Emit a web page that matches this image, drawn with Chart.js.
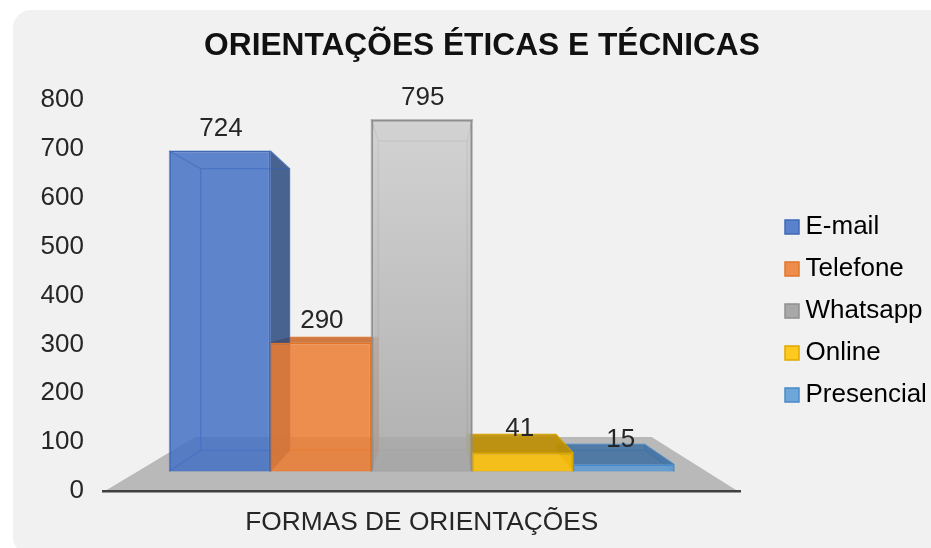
<!DOCTYPE html>
<html lang="pt">
<head>
    <meta charset="UTF-8">
    <title>Orientações Éticas e Técnicas</title>
    <script src="https://cdn.jsdelivr.net/npm/chart.js"></script>
    <style>
        html, body { margin: 0; background: #fff; overflow: hidden; }
        #panel { position: absolute; left: 13px; top: 10px; width: 940px; height: 545px; background: #f1f1f1; border-radius: 18px 0 0 18px; }
        #chart { position: absolute; left: 0; top: 0; }
    </style>
</head>
<body>
    <div id="panel"></div>
    <canvas id="chart" width="931" height="548"></canvas>

    <script>
        const categories = ['FORMAS DE ORIENTAÇÕES'];
        const seriesNames = ['E-mail', 'Telefone', 'Whatsapp', 'Online', 'Presencial'];
        const seriesValues = [724, 290, 795, 41, 15];
        const yTicks = [0, 100, 200, 300, 400, 500, 600, 700, 800];

        const fillColors = ['rgba(68,114,196,.85)', 'rgba(237,125,49,.85)', 'rgba(165,165,165,.85)', 'rgba(255,192,0,.85)', 'rgba(91,155,213,.85)'];
        const edgeColors = ['#3f69b8', '#df7429', '#8f8f8f', '#dda800', '#4a8ac8'];
        const shadeColors = ['rgba(44,74,127,.85)', 'rgba(200,100,35,.85)', 'rgba(120,120,120,.85)', 'rgba(190,142,0,.9)', 'rgba(62,110,160,.85)'];
        const legendColors = ['#5a82cc', '#ee8c4c', '#a8a8a8', '#ffc91f', '#6ea6da'];

        // perspective of the fake 3d box: back face shrinks towards this point
        const vanish = { x: 430, y: 298, scale: 0.88 };
        const toBack = (x, y) => [vanish.x + (x - vanish.x) * vanish.scale, vanish.y + (y - vanish.y) * vanish.scale];

        function quad(ctx, pts, fill, stroke) {
            ctx.beginPath();
            pts.forEach((p, i) => i ? ctx.lineTo(p[0], p[1]) : ctx.moveTo(p[0], p[1]));
            ctx.closePath();
            if (fill) { ctx.fillStyle = fill; ctx.fill(); }
            if (stroke) { ctx.strokeStyle = stroke; ctx.lineWidth = 1.2; ctx.stroke(); }
        }

        const box3d = {
            id: 'box3d',
            afterLayout(chart) {
                // title is centred on the panel, legend sits apart from the plot
                chart.titleBlock.left += 31;
                chart.titleBlock.right += 31;
                chart.legend.left = 775.5;
                chart.legend.right = 931;
                chart.legend.width = 155.5;
                chart.legend.top = 198;
                chart.legend.bottom = 548;
                chart.legend.height = 350;
            },
            beforeDatasetsDraw(chart) {
                const ctx = chart.ctx, area = chart.chartArea;
                ctx.save();
                ctx.lineJoin = 'round';
                // floor
                quad(ctx, [[area.left + 2, area.bottom], [area.right - 3, area.bottom], [area.right - 89, area.bottom - 54], [area.left + 92, area.bottom - 54]], '#b9b9b9');
                // last series first, the walls of a box lie over the box to its right
                for (let i = seriesValues.length - 1; i >= 0; i--) {
                    const bar = chart.getDatasetMeta(i).data[0];
                    const l = bar.x - bar.width / 2, r = bar.x + bar.width / 2, t = bar.y, b = bar.base;
                    const lt = toBack(l, t), rt = toBack(r, t), lb = toBack(l, b), rb = toBack(r, b);
                    const inner = edgeColors[i] + '88';
                    // low boxes are seen from above, so their inner walls tint what is behind them
                    const wall = t > vanish.y ? edgeColors[i] + '55' : null;
                    // faces turned towards the viewer are shaded, the others only show their edges
                    quad(ctx, [[l, b], [r, b], rb, lb], 'rgba(0,0,0,.03)', inner);
                    quad(ctx, [lt, rt, rb, lb], null, inner);
                    quad(ctx, [[l, t], lt, lb, [l, b]], lt[0] < l ? shadeColors[i] : wall, inner);
                    quad(ctx, [[r, t], rt, rb, [r, b]], rt[0] > r ? shadeColors[i] : wall, inner);
                    quad(ctx, [[l, t], [r, t], rt, lt], lt[1] < t ? shadeColors[i] : null, inner);
                }
                ctx.restore();
            },
            afterDatasetsDraw(chart) {
                const ctx = chart.ctx;
                ctx.save();
                ctx.font = '26px "Liberation Sans"';
                ctx.fillStyle = '#262626';
                ctx.textAlign = 'center';
                ctx.textBaseline = 'middle';
                seriesValues.forEach((v, i) => {
                    const bar = chart.getDatasetMeta(i).data[0];
                    ctx.fillText(v, bar.x + (v < 100 ? -3 : 1), bar.y - (v < 100 ? 24.5 : 22));
                });
                ctx.restore();
            }
        };

        new Chart(document.getElementById('chart'), {
            type: 'bar',
            plugins: [box3d],
            data: {
                labels: categories,
                datasets: seriesNames.map((name, i) => ({
                    label: name,
                    data: [seriesValues[i]],
                    yAxisID: 'yBars',
                    backgroundColor: i !== 2 ? fillColors[i] : c => {
                        const a = c.chart.chartArea;
                        if (!a) return fillColors[i];
                        const g = c.chart.ctx.createLinearGradient(0, a.top + 20, 0, a.bottom - 20);
                        g.addColorStop(0, 'rgba(205,205,205,.85)');
                        g.addColorStop(1, 'rgba(165,165,165,.85)');
                        return g;
                    },
                    borderColor: edgeColors[i],
                    borderWidth: i === 2 ? 2 : 1.5
                }))
            },
            options: {
                responsive: false,
                animation: false,
                layout: { padding: { right: 29 } },
                font: { family: '"Liberation Sans"' },
                datasets: { bar: { categoryPercentage: 0.7915, barPercentage: 1 } },
                scales: {
                    x: {
                        grid: { display: false, drawTicks: false },
                        border: { color: '#404040', width: 2.5, z: 1 },
                        ticks: { color: '#262626', padding: 16, maxRotation: 0, font: { family: '"Liberation Sans"', size: 26.3 } },
                        afterFit: s => { s.height = 57; }
                    },
                    y: {
                        min: yTicks[0],
                        max: yTicks[yTicks.length - 1],
                        grid: { display: false, drawTicks: false },
                        border: { display: false },
                        ticks: { stepSize: yTicks[1] - yTicks[0], color: '#262626', padding: 19, font: { family: '"Liberation Sans"', size: 26 } },
                        afterFit: s => { s.width = 103; }
                    },
                    // the boxes stand on a floor above the axis, so they get a scale of their own
                    yBars: { display: false, min: -45.2, max: 839.4 }
                },
                plugins: {
                    title: {
                        display: true,
                        text: 'ORIENTAÇÕES ÉTICAS E TÉCNICAS',
                        color: '#111',
                        font: { family: '"Liberation Sans"', size: 31.7, weight: 'bold', lineHeight: 1.2 },
                        padding: { top: 27, bottom: 35 }
                    },
                    legend: {
                        position: 'right',
                        align: 'start',
                        labels: {
                            color: '#262626',
                            font: { family: '"Liberation Sans"', size: 26, lineHeight: 1 },
                            padding: 16,
                            boxWidth: 1,
                            boxHeight: 14,
                            usePointStyle: true,
                            generateLabels: chart => seriesNames.map((name, i) => ({
                                text: name,
                                fillStyle: legendColors[i],
                                strokeStyle: edgeColors[i],
                                lineWidth: 1.5,
                                pointStyle: 'rect',
                                datasetIndex: i
                            }))
                        }
                    },
                    tooltip: { enabled: false }
                }
            }
        });
    </script>
</body>
</html>
